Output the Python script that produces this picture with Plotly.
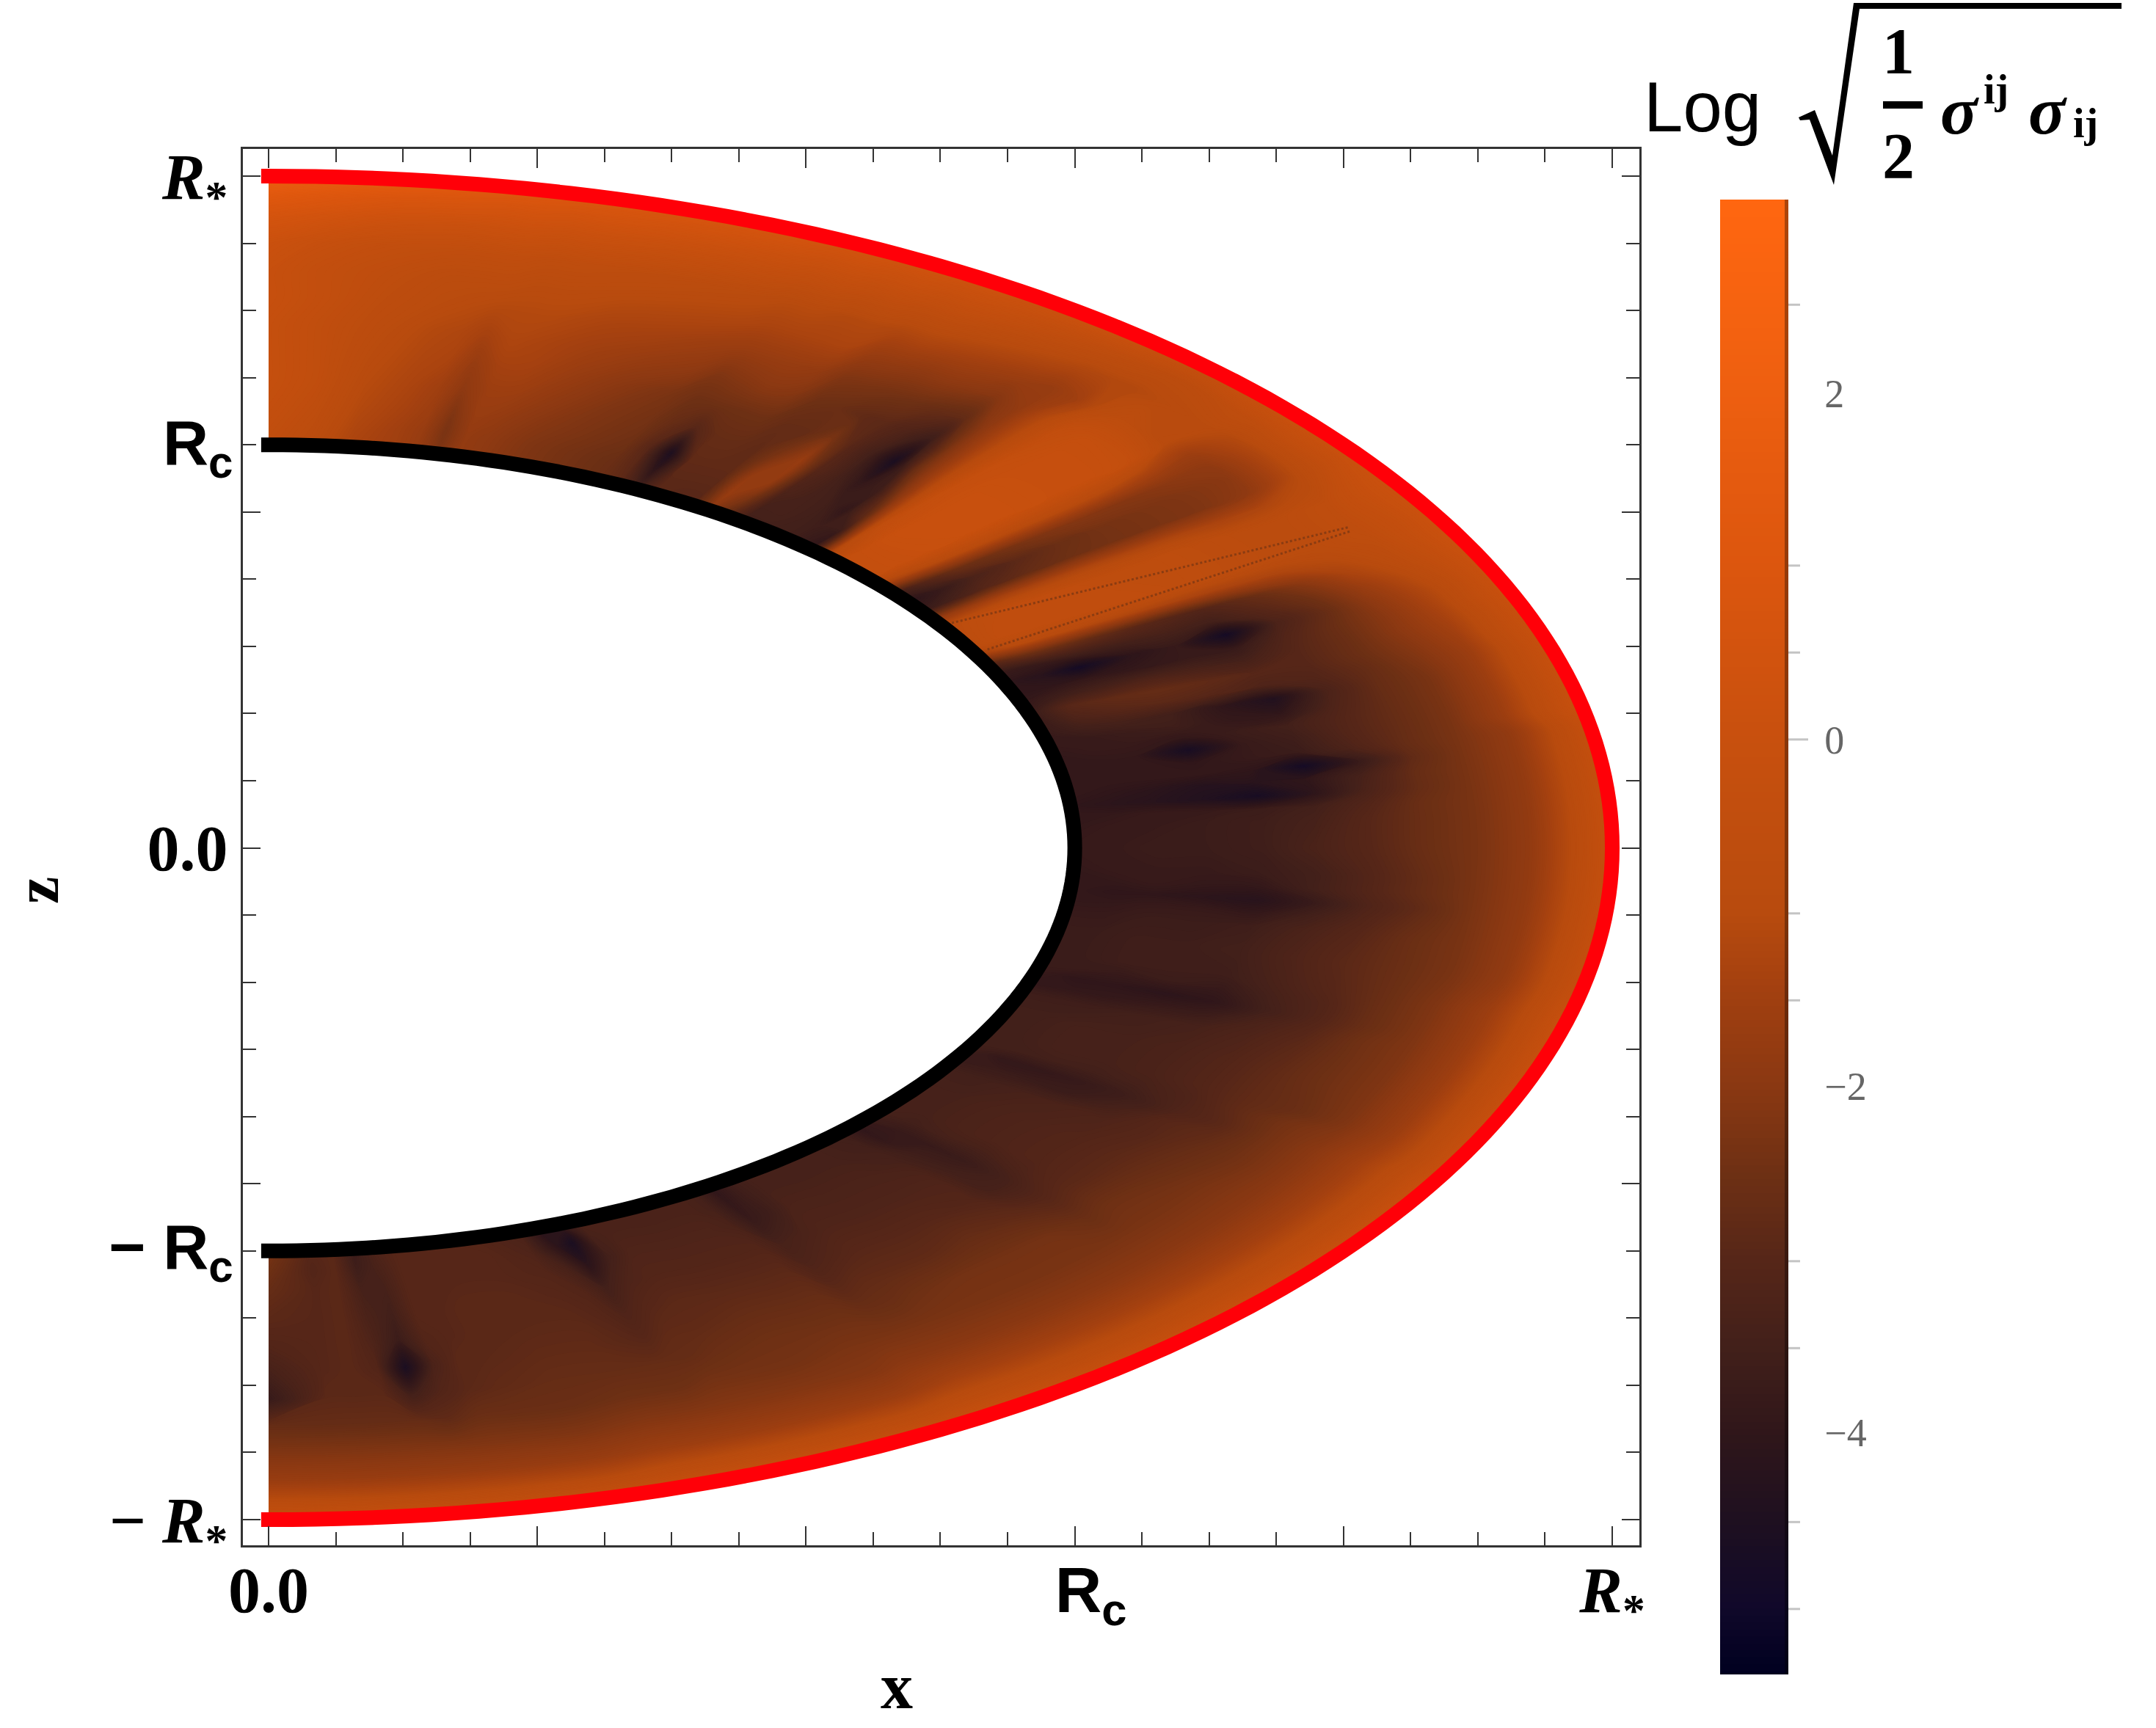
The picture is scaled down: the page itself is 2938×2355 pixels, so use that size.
import numpy as np
import plotly.graph_objects as go

PAGE_W, PAGE_H = 2938, 2355
SERIF = "Liberation Serif"
SANS = "Liberation Sans"
NARROW = "Liberation Sans Narrow, Liberation Sans"

# Colour scale of the stress invariant
LOG_MIN, LOG_MAX = -5.38, 3.1
scale_values = [-5.38, -5.0, -4.5, -4.0, -3.5, -3.0, -2.5, -2.0, -1.5, -1.0, 0.0, 1.0, 2.14, 3.1]
scale_colors = ["#000020", "#10082A", "#1E1020", "#2F161A", "#42201A", "#562618", "#6E3014",
                "#8A3812", "#A03F10", "#B84B0E", "#C8500E", "#DC560E", "#F06010", "#FF6610"]
colorbar_labels = [2, 0, -2, -4]
colorbar_marks = [2.5, 1, 0.5, 0, -1, -1.5, -3, -3.5, -4.5, -5]

# Elliptical coordinates of the sampled shell (fraction of R*, and angle from the equator)
radius = [0.60, 0.63, 0.66, 0.70, 0.74, 0.78, 0.82, 0.86, 0.90, 0.94, 0.97, 1.00]
theta_deg = [-90, -87, -85.5, -84, -82.5, -81, -79.5, -78, -75, -72, -70.5, -69, -67.5, -66, -63, -60,
             -58.5, -57, -55.5, -54, -51, -48, -45, -43.5, -42, -40.5, -39, -36, -33, -31.5, -30,
             -28.5, -27, -24, -21, -19.5, -18, -16.5, -15, -12, -9, -7.5, -6, -4.5, -3, 0, 3, 4.5,
             6, 7.5, 9, 10.5, 12, 13.5, 15, 16.5, 18, 19.5, 21, 22.5, 24, 25.5, 27, 28.5, 30, 33,
             34.5, 36, 37.5, 39, 40.5, 42, 45, 46.5, 48, 49.5, 51, 52.5, 54, 55.5, 57, 58.5, 60,
             61.5, 63, 64.5, 66, 69, 72, 75, 76.5, 78, 79.5, 81, 84, 87, 90]

# log10 of the invariant: one row per angle, one column per radius
log_stress = [
    [-2.3, -2.5, -2.7, -2.9, -3.1, -3.4, -3.8, -2.7, -2.2, -1.7, -1.0, -0.2],  # -90
    [-3.0, -3.1, -3.0, -3.0, -3.0, -3.0, -2.9, -2.7, -2.2, -1.7, -1.0, -0.2],
    [-2.9, -2.9, -2.9, -2.9, -2.9, -2.9, -2.9, -2.7, -2.2, -1.7, -1.0, -0.2],
    [-3.7, -3.6, -3.4, -3.3, -3.2, -3.1, -2.9, -2.7, -2.2, -1.7, -1.0, -0.2],
    [-3.2, -3.3, -3.4, -3.5, -3.7, -4.6, -3.5, -2.7, -2.2, -1.7, -1.0, -0.2],
    [-3.0, -3.0, -3.0, -3.0, -3.1, -3.3, -3.1, -2.8, -2.2, -1.7, -1.0, -0.2],  # -81
    [-3.0, -3.0, -3.0, -3.0, -3.0, -2.9, -2.9, -2.6, -2.2, -1.7, -1.0, -0.2],
    [-3.0, -3.0, -3.0, -2.9, -2.9, -2.9, -2.8, -2.6, -2.2, -1.7, -1.0, -0.2],
    [-3.1, -3.0, -3.0, -2.9, -2.9, -2.8, -2.7, -2.6, -2.2, -1.7, -1.0, -0.2],
    [-3.3, -3.2, -3.1, -3.0, -2.9, -2.8, -2.7, -2.5, -2.1, -1.6, -0.9, -0.1],
    [-4.2, -3.9, -3.4, -3.1, -3.0, -2.9, -2.7, -2.5, -2.1, -1.6, -0.9, -0.1],
    [-3.8, -4.6, -4.2, -3.5, -3.2, -3.0, -2.7, -2.5, -2.1, -1.6, -0.9, -0.1],  # -69
    [-3.3, -3.4, -3.5, -3.2, -3.0, -2.8, -2.7, -2.4, -2.1, -1.6, -0.9, -0.1],
    [-3.3, -3.3, -3.2, -3.1, -2.9, -2.8, -2.6, -2.4, -2.1, -1.6, -0.9, -0.1],
    [-3.3, -3.3, -3.2, -3.1, -2.9, -2.7, -2.5, -2.4, -2.1, -1.6, -0.9, -0.1],
    [-3.3, -3.3, -3.2, -3.1, -2.9, -2.7, -2.5, -2.3, -2.1, -1.6, -0.9, -0.1],  # -60
    [-3.4, -3.4, -3.3, -3.1, -2.9, -2.7, -2.5, -2.3, -2.0, -1.5, -0.8, 0.0],
    [-4.0, -3.9, -3.8, -3.4, -3.2, -2.9, -2.6, -2.3, -2.0, -1.4, -0.8, 0.0],
    [-3.6, -3.6, -3.6, -3.3, -3.1, -2.8, -2.6, -2.3, -2.0, -1.4, -0.8, 0.0],
    [-3.4, -3.4, -3.3, -3.2, -3.0, -2.8, -2.5, -2.3, -2.0, -1.4, -0.8, 0.0],
    [-3.4, -3.4, -3.3, -3.2, -3.0, -2.8, -2.4, -2.3, -2.0, -1.4, -0.8, 0.0],
    [-3.4, -3.4, -3.3, -3.2, -3.0, -2.7, -2.4, -2.3, -2.0, -1.4, -0.8, 0.0],
    [-3.6, -3.5, -3.4, -3.2, -3.1, -2.8, -2.4, -2.3, -2.0, -1.4, -0.8, 0.0],  # -45
    [-4.0, -3.9, -3.6, -3.5, -3.4, -2.9, -2.5, -2.3, -2.0, -1.4, -0.8, 0.1],
    [-3.6, -3.8, -3.8, -3.7, -3.4, -3.0, -2.6, -2.3, -2.0, -1.4, -0.8, 0.1],
    [-3.4, -3.5, -3.4, -3.4, -3.2, -2.9, -2.5, -2.3, -2.0, -1.4, -0.8, 0.1],
    [-3.4, -3.4, -3.3, -3.2, -3.1, -2.9, -2.5, -2.3, -2.0, -1.4, -0.8, 0.1],
    [-3.4, -3.4, -3.3, -3.2, -3.1, -2.9, -2.6, -2.3, -2.0, -1.4, -0.8, 0.1],
    [-3.5, -3.5, -3.4, -3.3, -3.2, -3.0, -2.7, -2.4, -2.0, -1.4, -0.8, 0.1],
    [-3.8, -3.7, -3.7, -3.7, -3.4, -3.0, -2.8, -2.4, -2.0, -1.4, -0.8, 0.1],
    [-3.6, -3.9, -3.9, -3.8, -3.6, -3.2, -2.9, -2.4, -2.0, -1.4, -0.8, 0.1],  # -30
    [-3.5, -3.5, -3.5, -3.5, -3.4, -3.2, -2.8, -2.4, -2.1, -1.5, -0.9, 0.0],
    [-3.5, -3.5, -3.4, -3.4, -3.3, -3.1, -2.8, -2.6, -2.2, -1.6, -0.9, 0.0],
    [-3.5, -3.5, -3.4, -3.4, -3.3, -3.1, -2.8, -2.5, -2.2, -1.6, -0.9, 0.0],
    [-3.6, -3.6, -3.6, -3.5, -3.4, -3.2, -2.9, -2.5, -2.2, -1.6, -0.9, 0.0],
    [-3.9, -3.9, -3.9, -3.8, -3.7, -3.3, -3.0, -2.5, -2.2, -1.6, -0.9, 0.0],
    [-3.8, -4.0, -4.0, -4.1, -4.0, -3.5, -3.1, -2.6, -2.2, -1.6, -0.9, 0.0],  # -18
    [-3.7, -3.7, -3.8, -3.7, -3.8, -3.4, -3.1, -2.6, -2.2, -1.6, -0.9, 0.0],
    [-3.7, -3.7, -3.6, -3.6, -3.6, -3.3, -3.0, -2.6, -2.2, -1.6, -0.9, 0.0],
    [-3.7, -3.7, -3.6, -3.6, -3.5, -3.2, -2.9, -2.6, -2.3, -1.8, -1.0, -0.2],
    [-3.8, -3.8, -3.7, -3.7, -3.6, -3.3, -3.0, -2.6, -2.3, -1.8, -1.0, -0.2],
    [-3.9, -3.9, -3.8, -3.8, -3.9, -3.5, -3.1, -2.7, -2.3, -1.8, -1.0, -0.2],
    [-3.9, -4.0, -4.0, -4.1, -4.2, -3.8, -3.2, -2.8, -2.3, -1.8, -1.0, -0.2],  # -6
    [-3.9, -3.9, -3.8, -3.9, -3.9, -3.5, -3.1, -2.7, -2.3, -1.8, -1.0, -0.2],
    [-3.9, -3.8, -3.8, -3.8, -3.7, -3.5, -3.1, -2.7, -2.3, -1.8, -1.0, -0.2],
    [-3.8, -3.8, -3.7, -3.7, -3.6, -3.3, -3.0, -2.6, -2.3, -1.8, -1.0, -0.2],  # 0
    [-3.9, -3.8, -3.8, -3.7, -3.6, -3.4, -3.0, -2.6, -2.3, -1.8, -1.0, -0.2],
    [-3.9, -3.9, -3.8, -3.8, -3.7, -3.5, -3.1, -2.6, -2.3, -1.8, -1.0, -0.2],
    [-4.0, -4.1, -4.2, -4.4, -4.7, -4.1, -3.3, -2.7, -2.3, -1.8, -1.0, -0.2],  # 6
    [-3.9, -4.0, -4.1, -4.3, -4.2, -4.0, -3.4, -2.7, -2.3, -1.8, -1.0, -0.2],
    [-3.9, -3.9, -3.9, -3.9, -4.0, -4.8, -3.8, -2.8, -2.3, -1.8, -1.0, -0.2],
    [-3.9, -3.9, -3.9, -4.0, -3.8, -3.7, -3.2, -2.7, -2.3, -1.8, -1.0, -0.2],
    [-3.9, -3.9, -3.9, -4.7, -3.8, -3.6, -3.1, -2.7, -2.3, -1.6, -0.8, 0.0],
    [-3.9, -3.8, -3.8, -3.9, -3.7, -3.5, -3.1, -2.7, -2.3, -1.6, -0.8, 0.0],
    [-3.8, -3.8, -3.7, -3.6, -3.9, -4.0, -3.2, -2.7, -2.3, -1.6, -0.8, 0.0],  # 15
    [-3.8, -3.5, -3.4, -3.5, -4.0, -4.4, -3.3, -2.7, -2.3, -1.6, -0.8, 0.0],
    [-3.8, -3.2, -3.0, -2.9, -3.0, -3.2, -3.1, -2.7, -2.2, -1.6, -0.8, 0.0],
    [-3.8, -3.0, -2.8, -2.7, -2.8, -3.0, -3.0, -2.6, -2.1, -1.5, -0.7, 0.0],
    [-3.9, -3.6, -3.4, -3.2, -3.3, -3.4, -3.0, -2.6, -2.0, -1.4, -0.7, 0.1],
    [-4.0, -4.0, -3.9, -3.9, -3.8, -3.8, -3.1, -2.6, -2.0, -1.3, -0.6, 0.1],
    [-4.0, -4.2, -4.8, -4.1, -3.8, -4.8, -3.3, -2.7, -1.9, -1.2, -0.6, 0.1],  # 24
    [-3.8, -3.8, -3.6, -3.5, -3.4, -3.5, -3.0, -2.5, -1.7, -1.0, -0.5, 0.1],
    [-3.0, -2.6, -2.6, -2.8, -3.0, -3.1, -2.7, -2.1, -1.3, -0.8, -0.4, 0.2],
    [-1.4, -1.0, -1.0, -1.1, -1.2, -1.3, -1.3, -1.2, -1.0, -0.7, -0.3, 0.2],
    [-0.8, -0.5, -0.5, -0.5, -0.5, -0.6, -0.7, -0.8, -0.8, -0.6, -0.3, 0.2],  # 30
    [-0.8, -0.6, -0.5, -0.5, -0.6, -0.6, -0.7, -0.8, -0.8, -0.6, -0.2, 0.2],
    [-1.8, -1.6, -1.4, -1.3, -1.2, -1.2, -1.2, -1.3, -1.2, -0.9, -0.3, 0.2],
    [-3.8, -3.4, -3.0, -2.7, -2.5, -2.4, -2.3, -2.2, -1.9, -1.1, -0.5, 0.2],  # 36
    [-4.1, -3.8, -3.3, -2.9, -2.6, -2.4, -2.3, -2.2, -2.0, -1.2, -0.5, 0.2],
    [-3.5, -3.0, -2.6, -2.4, -2.2, -2.1, -2.1, -2.0, -1.9, -1.2, -0.5, 0.2],
    [-1.4, -1.2, -1.0, -0.9, -0.9, -0.9, -1.0, -1.3, -1.6, -1.1, -0.6, 0.2],
    [-0.3, -0.2, -0.1, 0.0, 0.0, -0.1, -0.1, -0.3, -1.0, -0.9, -0.6, 0.1],
    [-0.3, -0.2, 0.0, 0.0, 0.0, -0.1, -0.1, -0.2, -0.7, -1.0, -0.8, -0.1],  # 45
    [-1.4, -0.9, -0.5, -0.3, -0.2, -0.2, -0.3, -0.4, -0.9, -1.1, -0.8, 0.0],
    [-4.0, -3.8, -2.8, -1.9, -1.4, -1.2, -1.1, -1.1, -1.5, -1.1, -0.7, 0.1],
    [-3.6, -3.6, -3.9, -3.6, -2.6, -2.2, -1.9, -1.8, -1.7, -1.1, -0.6, 0.2],
    [-3.5, -3.5, -3.5, -3.9, -4.6, -3.7, -2.8, -2.1, -1.6, -1.0, -0.5, 0.3],  # 51
    [-3.5, -3.4, -3.4, -3.4, -3.5, -3.2, -2.7, -2.0, -1.5, -0.9, -0.4, 0.3],
    [-3.5, -3.4, -3.2, -3.0, -3.0, -2.9, -2.5, -1.9, -1.4, -0.8, -0.3, 0.3],
    [-2.8, -2.3, -1.8, -1.7, -2.3, -2.8, -2.4, -1.9, -1.3, -0.7, -0.2, 0.3],
    [-2.0, -1.7, -1.8, -2.3, -2.7, -2.6, -2.3, -1.8, -1.2, -0.6, -0.1, 0.4],  # 57
    [-3.0, -2.9, -2.8, -2.8, -2.7, -2.5, -2.2, -1.7, -1.2, -0.6, -0.1, 0.4],
    [-3.0, -2.9, -2.8, -2.7, -2.5, -2.1, -1.8, -1.3, -1.1, -0.5, 0.0, 0.5],
    [-2.9, -2.9, -2.8, -2.7, -2.5, -2.0, -1.7, -1.3, -1.1, -0.5, 0.0, 0.5],
    [-3.4, -4.0, -4.5, -3.0, -2.5, -2.1, -1.7, -1.3, -1.0, -0.4, 0.1, 0.6],  # 63
    [-2.8, -2.9, -3.0, -2.7, -2.5, -2.2, -1.7, -1.3, -1.0, -0.4, 0.1, 0.6],
    [-2.6, -2.6, -2.5, -2.4, -2.3, -1.9, -1.6, -1.2, -0.9, -0.3, 0.2, 0.7],
    [-2.4, -2.4, -2.3, -2.2, -2.0, -1.7, -1.4, -1.1, -0.8, -0.2, 0.3, 0.8],
    [-2.2, -2.2, -2.1, -1.9, -1.7, -1.5, -1.3, -1.0, -0.7, -0.1, 0.4, 0.9],
    [-1.9, -1.9, -1.8, -1.6, -1.4, -1.3, -1.1, -0.9, -0.6, 0.0, 0.5, 1.0],  # 75
    [-1.8, -1.8, -1.7, -1.6, -1.4, -1.2, -1.1, -0.9, -0.6, 0.0, 0.5, 1.1],
    [-2.2, -2.3, -2.2, -1.9, -1.7, -1.4, -1.1, -0.8, -0.5, 0.1, 0.6, 1.2],
    [-1.7, -1.7, -1.6, -1.5, -1.3, -1.2, -1.0, -0.8, -0.5, 0.1, 0.6, 1.3],
    [-1.5, -1.5, -1.4, -1.3, -1.2, -1.1, -0.9, -0.8, -0.5, 0.1, 0.7, 1.4],
    [-1.3, -1.2, -1.1, -1.0, -0.9, -0.8, -0.7, -0.6, -0.4, 0.2, 0.8, 1.6],
    [-0.8, -0.7, -0.6, -0.5, -0.5, -0.5, -0.4, -0.4, -0.2, 0.4, 1.0, 1.8],
    [-0.5, -0.4, -0.3, -0.2, -0.2, -0.2, -0.1, -0.1, 0.1, 0.6, 1.2, 2.0],  # 90
]
assert len(log_stress) == len(theta_deg)

# Thin seams inside the bright band
seam_upper_x = [0.5085, 0.804]
seam_upper_z = [0.3348, 0.4775]
seam_lower_x = [0.535, 0.806]
seam_lower_z = [0.2954, 0.4720]

# Boundary surfaces
R_star = 1.0
R_c = 0.6
arc_deg = list(range(90, -91, -1))

# Axis ticks
x_major = [0, 0.2, 0.4, 0.6, 0.8, 1.0]
x_minor = [round(i * 0.05, 2) for i in range(0, 21)]
z_major = [-1.0, -0.5, 0, 0.5, 1.0]
z_minor = [round(-1 + i * 0.1, 1) for i in range(0, 21)]

BLANK = "\u00a0"
RC_TEXT = f'<span style="font-family:{NARROW}"><b>R<sub>c</sub></b></span>'
RS_TEXT = "<b><i>R</i><sub>*</sub></b>"
ZERO_TEXT = "<b>0.0</b>"
x_text = [ZERO_TEXT, BLANK, BLANK, "\u00a0\u00a0" + RC_TEXT, BLANK, RS_TEXT]
z_text = ["<b>\u2212</b> " + RS_TEXT, BLANK, ZERO_TEXT, BLANK, RS_TEXT]


def page_x(px):
    return px / PAGE_W


def page_y(py):
    return 1 - py / PAGE_H


def darker(hex_color, k=0.68):
    r, g, b = (int(hex_color[i:i + 2], 16) for i in (1, 3, 5))
    return f"rgb({int(r * k)},{int(g * k)},{int(b * k)})"


def scale_stops(colors):
    return [[(v - LOG_MIN) / (LOG_MAX - LOG_MIN), c] for v, c in zip(scale_values, colors)]


def boundary(r):
    t = np.radians(arc_deg)
    xs = np.r_[-0.0055, r * np.cos(t), -0.0055]
    zs = np.r_[r, r * np.sin(t), -r]
    return xs, zs


rr, tt = np.meshgrid(radius, np.radians(theta_deg))
fig = go.Figure()
hidden = dict(showgrid=False, showline=False, showticklabels="none",
              startline=False, endline=False, minorgridcount=0, smoothing=0)
fig.add_trace(go.Carpet(carpet="shell", a=radius, b=theta_deg,
                        x=(rr * np.cos(tt)).tolist(), y=(rr * np.sin(tt)).tolist(),
                        aaxis=hidden, baxis=hidden))
fig.add_trace(go.Contourcarpet(carpet="shell", a=radius, b=theta_deg, z=log_stress,
                               autocontour=False, coloraxis="coloraxis",
                               contours=dict(start=LOG_MIN, end=LOG_MAX, size=0.04,
                                             coloring="fill", showlines=False),
                               line=dict(width=0)))

for sx, sz in ((seam_upper_x, seam_upper_z), (seam_lower_x, seam_lower_z)):
    fig.add_trace(go.Scatter(x=sx, y=sz, mode="lines", hoverinfo="skip", showlegend=False,
                             line=dict(color="#8A3C12", width=3, dash="dot")))

for r, color in ((R_star, "#FF0008"), (R_c, "#000000")):
    xs, zs = boundary(r)
    fig.add_trace(go.Scatter(x=xs, y=zs, mode="lines", hoverinfo="skip", showlegend=False,
                             line=dict(color=color, width=20, simplify=False)))

# Darker rim along the right side of the colour bar
fig.add_trace(go.Scatter(
    x=[None, None], y=[None, None], mode="markers", hoverinfo="skip", showlegend=False,
    marker=dict(color=[LOG_MIN, LOG_MAX], cmin=LOG_MIN, cmax=LOG_MAX, showscale=True,
                colorscale=scale_stops([darker(c) for c in scale_colors]),
                colorbar=dict(x=page_x(2432), xanchor="left", xpad=0, ypad=0,
                              y=page_y(2282), yanchor="bottom", lenmode="pixels", len=2010,
                              thickness=5, thicknessmode="pixels", outlinewidth=0,
                              ticks="", showticklabels=False))))

axis_common = dict(showline=True, linecolor="#333333", linewidth=3, mirror="ticks",
                   ticks="inside", tickwidth=2, tickcolor="#333333", showgrid=False,
                   zeroline=False, tickmode="array", automargin=False,
                   tickfont=dict(family=SERIF, size=88, color="#000000"))
fig.update_layout(
    width=PAGE_W, height=PAGE_H, autosize=False,
    margin=dict(l=0, r=0, t=0, b=0, pad=0),
    paper_bgcolor="white", plot_bgcolor="white", showlegend=False,
    xaxis=dict(domain=[page_x(331), page_x(2234)], range=[-0.0191, 1.0202],
               tickvals=x_major, ticktext=x_text, ticklen=26, ticklabelstandoff=-18,
               minor=dict(tickmode="array", tickvals=x_minor, ticks="inside", ticklen=18,
                          tickwidth=2, tickcolor="#333333", showgrid=False),
               **axis_common),
    yaxis=dict(domain=[page_y(2106), page_y(203)], range=[-1.0382, 1.0404],
               tickvals=z_major, ticktext=z_text, ticklen=24, ticklabelstandoff=0,
               minor=dict(tickmode="array", tickvals=z_minor, ticks="inside", ticklen=18,
                          tickwidth=2, tickcolor="#333333", showgrid=False),
               **axis_common),
    coloraxis=dict(cmin=LOG_MIN, cmax=LOG_MAX, colorscale=scale_stops(scale_colors),
                   colorbar=dict(x=page_x(2344), xanchor="left", xpad=0, ypad=0,
                                 y=page_y(2282), yanchor="bottom", lenmode="pixels", len=2010,
                                 thickness=88, thicknessmode="pixels", outlinewidth=0,
                                 tickmode="array", tickvals=colorbar_labels,
                                 ticktext=["2", "0", "\u22122", "\u22124"],
                                 ticks="outside", ticklen=44, tickwidth=1,
                                 tickcolor="rgba(0,0,0,0)",
                                 tickfont=dict(family=SERIF, size=54, color="#666666"))),
)


def label(text, px, py, family, size, angle=0, color="#000000", xanchor="center"):
    fig.add_annotation(text=text, xref="paper", yref="paper", x=page_x(px), y=page_y(py),
                       xanchor=xanchor, yanchor="middle", showarrow=False, textangle=angle,
                       font=dict(family=family, size=size, color=color), borderpad=0, borderwidth=0)


# The Rc ticks on the z axis fall between the major marks
label(RC_TEXT, 318, 610, NARROW, 86, xanchor="right")
label("<b>\u2212</b> " + RC_TEXT, 318, 1706, NARROW, 86, xanchor="right")

label("<b>x</b>", 1222, 2298, SERIF, 88)
label("<b>z</b>", 50, 1214, SERIF, 84, angle=-90)

# Colour bar heading: Log of the root of one half sigma^ij sigma_ij
label("Log", 2320, 146, SANS, 96)
label("<b>1</b>", 2587, 70, SERIF, 88)
label("<b>2</b>", 2587, 213, SERIF, 88)
label("<b><i>\u03c3</i></b>", 2670, 150, SERIF, 94)
label("<b>ij</b>", 2720, 122, SERIF, 56)
label("<b><i>\u03c3</i></b>", 2790, 150, SERIF, 94)
label("<b>ij</b>", 2842, 168, SERIF, 56)

paper_shape = dict(type="path", xref="paper", yref="paper", line=dict(width=0), fillcolor="#000000")
radical = [(2451, 160), (2473, 150), (2497, 212), (2526, 4), (2891, 4), (2891, 12),
           (2534, 12), (2499, 252), (2466, 163), (2453, 164)]
fig.add_shape(path="M " + " L ".join(f"{page_x(a):.5f},{page_y(b):.5f}" for a, b in radical) + " Z",
              **paper_shape)
fig.add_shape(type="rect", xref="paper", yref="paper", x0=page_x(2566), x1=page_x(2620),
              y0=page_y(138), y1=page_y(148), line=dict(width=0), fillcolor="#000000")

# Tick marks beside the colour bar
ZERO_ROW = 1007.8
PIXELS_PER_UNIT = 237.0
for v in colorbar_marks:
    py = ZERO_ROW - v * PIXELS_PER_UNIT
    fig.add_shape(type="line", xref="paper", yref="paper", x0=page_x(2437),
                  x1=page_x(2464 if v == 0 else 2453), y0=page_y(py), y1=page_y(py),
                  line=dict(color="#C4C4C4", width=3))

fig.write_html("out.html")
